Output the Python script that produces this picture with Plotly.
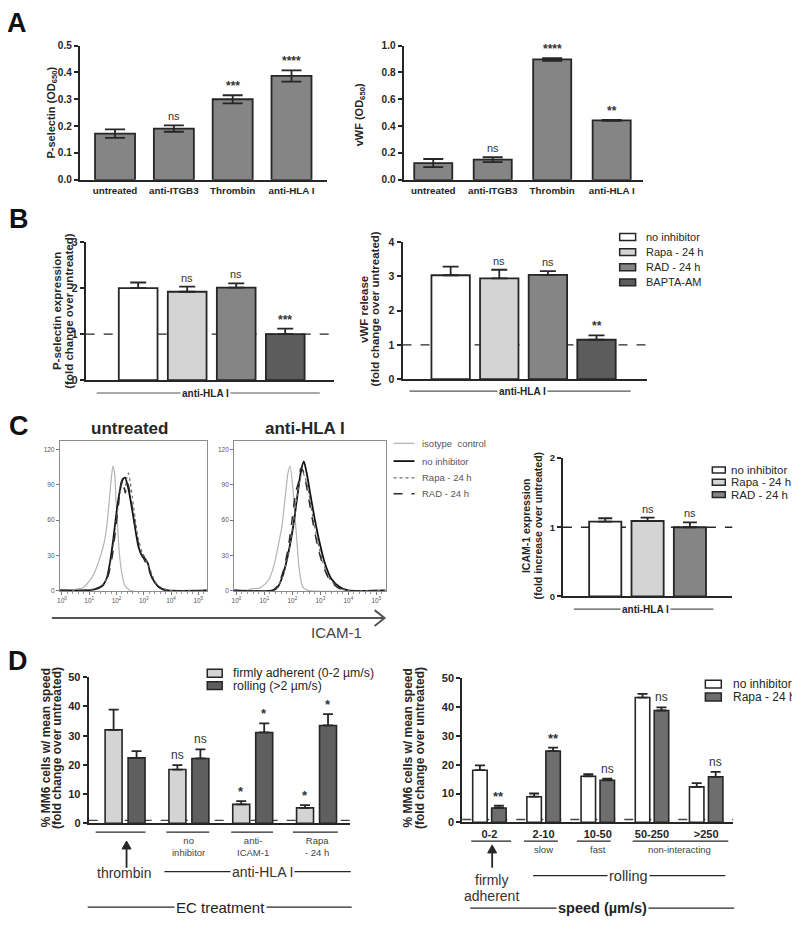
import plotly.graph_objects as go

# The page adds an 8 px body margin, so the figure is drawn 8 px in from the top-left.
OFF = 8
W, H = 800 - OFF, 930 - OFF
FONT = "Arial, 'Liberation Sans', sans-serif"
INK = "#262626"

# ---------------- data ----------------
a_cats = ["untreated", "anti-ITGB3", "Thrombin", "anti-HLA I"]
a_psel = [0.172, 0.191, 0.300, 0.387]
a_psel_err = [0.016, 0.012, 0.015, 0.021]
a_psel_sig = ["", "ns", "***", "****"]
a_vwf = [0.125, 0.150, 0.897, 0.443]
a_vwf_err = [0.030, 0.018, 0.010, 0.004]
a_vwf_sig = ["", "ns", "****", "**"]

b_groups = ["no inhibitor", "Rapa - 24 h", "RAD - 24 h", "BAPTA-AM"]
b_psel = [2.00, 1.92, 2.01, 1.00]
b_psel_err = [0.12, 0.11, 0.09, 0.12]
b_psel_sig = ["", "ns", "ns", "***"]
b_vwf = [3.03, 2.94, 3.04, 1.15]
b_vwf_err = [0.25, 0.25, 0.11, 0.13]
b_vwf_sig = ["", "ns", "ns", "**"]

c_groups = ["no inhibitor", "Rapa - 24 h", "RAD - 24 h"]
c_icam = [1.08, 1.09, 1.00]
c_icam_err = [0.05, 0.05, 0.07]
c_icam_sig = ["", "ns", "ns"]

# flow cytometry histograms (x = log10 fluorescence, y = counts)
h_ticks = ["10<sup>0</sup>", "10<sup>1</sup>", "10<sup>2</sup>", "10<sup>3</sup>", "10<sup>4</sup>", "10<sup>5</sup>"]
iso_u_x = [-0.08, 0.5, 0.75, 1.0, 1.17, 1.35, 1.53, 1.65, 1.75, 1.82, 1.87, 1.93, 1.98, 2.04, 2.1, 2.2, 2.32, 2.5, 5.33]
iso_u_y = [0, 1, 2, 8, 14, 25, 39, 56, 81, 98, 106, 100, 78, 55, 33, 14, 4, 0, 0]
noi_u_x = [-0.08, 0.8, 1.2, 1.48, 1.65, 1.77, 1.9, 2.02, 2.14, 2.24, 2.32, 2.4, 2.47, 2.55, 2.63, 2.72, 2.81, 2.95, 3.05, 3.15, 3.25, 3.4, 3.6, 3.9, 5.33]
noi_u_y = [0, 0, 1, 4, 11, 25, 47, 70, 87, 95, 96, 90, 83, 72, 61, 48, 37, 29, 27, 23, 14, 7, 2, 0, 0]
rapa_u_x = [-0.08, 0.8, 1.3, 1.55, 1.7, 1.85, 1.98, 2.1, 2.2, 2.3, 2.38, 2.44, 2.5, 2.58, 2.68, 2.8, 2.95, 3.1, 3.25, 3.4, 3.6, 3.9, 5.33]
rapa_u_y = [0, 0, 2, 6, 14, 33, 58, 78, 90, 86, 96, 100, 93, 80, 62, 44, 32, 26, 17, 8, 3, 0, 0]
rad_u_x = [-0.08, 0.8, 1.3, 1.55, 1.7, 1.85, 1.98, 2.08, 2.17, 2.24, 2.32, 2.4, 2.48, 2.58, 2.7, 2.85, 3.0, 3.15, 3.3, 3.5, 3.8, 5.33]
rad_u_y = [0, 0, 2, 5, 13, 30, 55, 75, 92, 95, 83, 92, 85, 70, 52, 35, 27, 20, 11, 4, 0, 0]

iso_h_x = [-0.08, 0.34, 0.58, 0.82, 1.0, 1.18, 1.36, 1.51, 1.63, 1.75, 1.85, 1.92, 2.01, 2.13, 2.25, 2.37, 2.55, 5.33]
iso_h_y = [0, 0, 1.5, 2, 5, 10, 23, 40, 55, 81, 101, 106, 89, 52, 17, 3, 0, 0]
noi_h_x = [-0.08, 1.3, 1.48, 1.66, 1.84, 2.02, 2.17, 2.31, 2.41, 2.52, 2.64, 2.79, 2.97, 3.15, 3.39, 3.69, 3.99, 5.33]
noi_h_y = [0, 0, 3, 13, 30, 53, 79, 102, 110, 99, 82, 62, 41, 24, 10, 3, 0, 0]
rapa_h_x = [-0.08, 1.3, 1.5, 1.7, 1.88, 2.05, 2.2, 2.3, 2.38, 2.46, 2.58, 2.72, 2.9, 3.08, 3.3, 3.6, 3.95, 5.33]
rapa_h_y = [0, 0, 4, 15, 35, 60, 85, 97, 100, 96, 84, 64, 42, 25, 11, 3, 0, 0]
rad_h_x = [-0.08, 1.3, 1.5, 1.68, 1.85, 2.0, 2.12, 2.22, 2.3, 2.38, 2.48, 2.6, 2.75, 2.92, 3.1, 3.35, 3.65, 3.95, 5.33]
rad_h_y = [0, 0, 5, 17, 36, 62, 84, 92, 104, 102, 92, 76, 56, 36, 21, 8, 2, 0, 0]

d_groups = ["thrombin", "no<br>inhibitor", "anti-<br>ICAM-1", "Rapa<br>- 24 h"]
d_firm = [32.0, 18.4, 6.5, 5.3]
d_firm_err = [6.9, 1.5, 1.1, 0.9]
d_firm_sig = ["", "ns", "*", "*"]
d_roll = [22.4, 22.2, 31.1, 33.5]
d_roll_err = [2.3, 3.1, 3.1, 3.9]
d_roll_sig = ["", "ns", "*", "*"]

e_bins = ["0-2", "2-10", "10-50", "50-250", ">250"]
e_noinh = [18.1, 8.9, 16.0, 43.3, 12.3]
e_noinh_err = [1.7, 1.1, 0.7, 1.3, 1.3]
e_rapa = [5.0, 24.7, 14.6, 38.8, 15.8]
e_rapa_err = [0.75, 1.2, 0.6, 1.1, 1.7]
e_rapa_sig = ["**", "**", "ns", "ns", "ns"]

# ---------------- helpers ----------------
def px(x):
    return (x - OFF) / W


def py(y):
    return 1 - (y - OFF) / H


fig = go.Figure()
annotations = []
shapes = []


def fnt(size, bold=False, color=INK):
    return dict(family=FONT, size=size, color=color, weight="bold" if bold else "normal")


def ann(text, x, y, size=11, bold=False, color=INK, xanchor="center", yanchor="middle",
        angle=0, xref="paper", yref="paper", bg=None, yshift=0):
    d = dict(text=text, x=px(x) if xref == "paper" else x, y=py(y) if yref == "paper" else y,
             xref=xref, yref=yref, showarrow=False, xanchor=xanchor, yanchor=yanchor,
             textangle=angle, font=fnt(size, bold, color), yshift=yshift)
    if bg:
        d["bgcolor"] = bg
        d["borderpad"] = 1
    annotations.append(d)


def line(x0, y0, x1, y1, color=INK, width=1.5, dash="solid"):
    shapes.append(dict(type="line", xref="paper", yref="paper", x0=px(x0), y0=py(y0),
                       x1=px(x1), y1=py(y1), line=dict(color=color, width=width, dash=dash)))


def up_arrow(x, y_tip, y_tail):
    line(x, y_tail, x, y_tip + 5, INK, 1.8)
    shapes.append(dict(type="path", xref="paper", yref="paper",
                       path=f"M {px(x)},{py(y_tip)} L {px(x - 4.5)},{py(y_tip + 8)} "
                            f"L {px(x + 4.5)},{py(y_tip + 8)} Z",
                       fillcolor=INK, line=dict(color=INK, width=1)))


def box(x0, x1, yc, h, fill):
    shapes.append(dict(type="rect", xref="paper", yref="paper", x0=px(x0), x1=px(x1),
                       y0=py(yc + h / 2), y1=py(yc - h / 2), fillcolor=fill,
                       line=dict(color=INK, width=1.5)))


def bars(xa, ya, vals, errs, colors, width, offset, cap, sym=False, lw=1.8):
    n = len(vals)
    fig.add_trace(go.Bar(
        x=list(range(n)), y=vals, xaxis=xa, yaxis=ya, width=width, offset=offset,
        marker=dict(color=colors, line=dict(color=INK, width=lw)),
        error_y=dict(type="data", array=errs, arrayminus=errs if sym else [0] * n,
                     symmetric=False, color=INK, thickness=1.8, width=cap, visible=True),
        hoverinfo="skip"))


def sig(xa, ya, vals, errs, labels, shift=0.0, size_ns=11, size_star=12):
    for i, s in enumerate(labels):
        if not s:
            continue
        star = s.startswith("*")
        annotations.append(dict(
            text=s, x=i + shift, y=vals[i] + errs[i], xref=xa, yref=ya, showarrow=False,
            xanchor="center", yanchor="bottom", yshift=0 if star else 1,
            font=fnt(size_star if star else size_ns, star, "#333")))


def ytitle(lines, xc, yc, size, gap):
    n = len(lines)
    for k, t in enumerate(lines):
        x = xc + (k - (n - 1) / 2) * gap
        ann(t, x, yc, size=size, bold=True, angle=-90)


def yax(top, bot, rng, dtick, anchor, size, fmt=""):
    return dict(domain=[py(bot), py(top)], range=rng, dtick=dtick, tick0=0, anchor=anchor,
                showline=True, linecolor=INK, linewidth=2, ticks="outside", ticklen=4,
                tickwidth=1.5, tickcolor=INK, showgrid=False, zeroline=False, tickformat=fmt,
                tickfont=fnt(size, True), fixedrange=True)


def xax(left, right, rng, anchor, labels=None, size=10.5, standoff=None):
    d = dict(domain=[px(left), px(right)], range=rng, anchor=anchor, showline=True,
             linecolor=INK, linewidth=2, ticks="", showgrid=False, zeroline=False,
             fixedrange=True)
    if labels:
        d.update(tickmode="array", tickvals=list(range(len(labels))), ticktext=labels,
                 tickfont=fnt(size, True), showticklabels=True)
        if standoff is not None:
            d["ticklabelstandoff"] = standoff
    else:
        d["showticklabels"] = False
    return d


def hxax(left, right, anchor):
    return dict(domain=[px(left), px(right)], range=[-0.08, 5.33], anchor=anchor,
                showline=True, mirror=True, linecolor="#8c8c8c", linewidth=1,
                tickmode="array", tickvals=list(range(6)), ticktext=h_ticks,
                ticks="outside", ticklen=3, tickcolor="#777", tickwidth=1,
                minor=dict(ticks="outside", ticklen=2, dtick=0.2, tickcolor="#999"),
                showgrid=False, zeroline=False, tickfont=fnt(6.5, False, "#555"),
                fixedrange=True)


def hyax(top, bot, anchor):
    return dict(domain=[py(bot), py(top)], range=[-0.8, 127], anchor=anchor,
                showline=True, mirror=True, linecolor="#8c8c8c", linewidth=1,
                tickmode="array", tickvals=[0, 30, 60, 90, 120],
                ticks="outside", ticklen=3, tickcolor="#777", tickwidth=1,
                showgrid=False, zeroline=False, tickfont=fnt(6.5, False, "#555"),
                fixedrange=True)


# ---------------- panel A ----------------
GRAY_A = "#858585"
bars("x", "y", a_psel, a_psel_err, GRAY_A, 0.68, -0.34, 10, sym=True)
sig("x", "y", a_psel, a_psel_err, a_psel_sig)
bars("x2", "y2", a_vwf, a_vwf_err, GRAY_A, 0.64, -0.32, 10, sym=True)
sig("x2", "y2", a_vwf, a_vwf_err, a_vwf_sig)
ytitle(["P-selectin (OD<sub>650</sub>)"], 49, 108, 11, 0)
ytitle(["vWF (OD<sub>650</sub>)"], 358, 110, 11, 0)

# ---------------- panel B ----------------
B_COLS = ["#ffffff", "#d4d4d4", "#858585", "#5c5c5c"]
bars("x3", "y3", b_psel, b_psel_err, B_COLS, 0.79, -0.395, 8)
sig("x3", "y3", b_psel, b_psel_err, b_psel_sig)
bars("x4", "y4", b_vwf, b_vwf_err, B_COLS, 0.79, -0.395, 8)
sig("x4", "y4", b_vwf, b_vwf_err, b_vwf_sig)
for xa, ya in (("x3", "y3"), ("x4", "y4"), ("x7", "y7")):
    shapes.append(dict(type="line", xref=f"{xa} domain", yref=ya, x0=0, x1=1, y0=1, y1=1,
                       layer="below", line=dict(color=INK, width=1.4, dash="dash")))
ytitle(["P-selectin expression", "(fold change over untreated)"], 60, 309, 11.5, 11.7)
ytitle(["vWF release", "(fold change over untreated)"], 368, 307, 11.5, 11.7)
line(94, 392, 318, 392, "#555", 1.2)
ann("anti-HLA I", 203, 392, size=10, bold=True, bg="white")
line(408, 390, 630, 390, "#555", 1.2)
ann("anti-HLA I", 521, 390, size=10, bold=True, bg="white")
for k, (lab, col) in enumerate(zip(b_groups, B_COLS)):
    yc = 234 + k * 15.3
    box(619, 635, yc, 7, col)
    ann(lab, 643, yc, size=11, xanchor="left")

# ---------------- panel C ----------------
hist_styles = [
    ("isotype  control", dict(color="#b3b3b3", width=1.2, dash="solid")),
    ("no inhibitor", dict(color="#111111", width=1.8, dash="solid")),
    ("Rapa - 24 h", dict(color="#6e6e6e", width=1.2, dash="dot")),
    ("RAD - 24 h", dict(color="#2a2a2a", width=1.5, dash="dash")),
]
for xa, ya, curves in (
    ("x5", "y5", [(iso_u_x, iso_u_y), (noi_u_x, noi_u_y), (rapa_u_x, rapa_u_y), (rad_u_x, rad_u_y)]),
    ("x6", "y6", [(iso_h_x, iso_h_y), (noi_h_x, noi_h_y), (rapa_h_x, rapa_h_y), (rad_h_x, rad_h_y)]),
):
    for (cx, cy), (name, st) in zip(curves, hist_styles):
        fig.add_trace(go.Scatter(x=cx, y=cy, xaxis=xa, yaxis=ya, mode="lines", name=name,
                                 line=dict(shape="spline", smoothing=0.6, **st),
                                 hoverinfo="skip"))
ann("untreated", 127, 428, size=17, bold=True)
ann("anti-HLA I", 303, 428, size=17, bold=True)
for k, (name, st) in enumerate(hist_styles):
    yc = [443, 461, 478, 494][k]
    line(392, yc, 413, yc, st["color"], st["width"], st["dash"])
    ann(name, 419, yc, size=9.5, color="#555", xanchor="left")
# ICAM-1 arrow
line(49, 620, 382, 620, "#555", 2)
shapes.append(dict(type="path", xref="paper", yref="paper",
                   path=f"M {px(373)},{py(612)} L {px(383)},{py(620)} L {px(373)},{py(628)}",
                   line=dict(color="#555", width=2)))
ann("ICAM-1", 335, 635, size=15, color="#444")

C_COLS = ["#ffffff", "#d4d4d4", "#858585"]
bars("x7", "y7", c_icam, c_icam_err, C_COLS, 0.76, -0.38, 7)
sig("x7", "y7", c_icam, c_icam_err, c_icam_sig)
ytitle(["ICAM-1 expression", "(fold increase over untreated)"], 531, 526, 10.5, 12.5)
line(573, 611, 713, 611, "#555", 1.2)
ann("anti-HLA I", 645, 611, size=10, bold=True, bg="white")
for k, (lab, col) in enumerate(zip(c_groups, C_COLS)):
    yc = 470 + k * 12.5
    box(712, 725, yc, 6, col)
    ann(lab, 729, yc, size=11.5, xanchor="left")

# ---------------- panel D ----------------
FIRM, ROLL = "#d4d4d4", "#5f5f5f"
bars("x8", "y8", d_firm, d_firm_err, FIRM, 0.266, -0.313, 5, lw=1.6)
bars("x8", "y8", d_roll, d_roll_err, ROLL, 0.266, 0.047, 5, lw=1.6)
sig("x8", "y8", d_firm, d_firm_err, d_firm_sig, shift=-0.18, size_ns=12, size_star=13)
sig("x8", "y8", d_roll, d_roll_err, d_roll_sig, shift=0.18, size_ns=12, size_star=13)
ytitle(["% MM6 cells w/ mean speed", "(fold change over untreated)"], 49, 752, 12, 11.7)
box(205, 220, 676, 8, FIRM)
ann("firmly adherent (0-2 µm/s)", 229, 676, size=12.3, xanchor="left")
box(205, 220, 688.5, 8, ROLL)
ann("rolling (>2 µm/s)", 229, 688.5, size=12.3, xanchor="left")
for (x0, x1) in ((93, 143), (164, 207), (229, 271), (291, 336)):
    line(x0, 837, x1, 837, INK, 1.3)
for i, g in enumerate(d_groups[1:], start=1):
    annotations.append(dict(text=g, x=i, y=py(851), xref="x8", yref="paper", showarrow=False,
                            xanchor="center", yanchor="middle", font=fnt(9.5, False, "#444")))
up_arrow(124, 846, 873)
ann(d_groups[0], 121, 878, size=14, color="#333")
line(162, 877, 349, 877, INK, 1.3)
ann("anti-HLA I", 260, 877, size=14, color="#333", bg="white")
line(85, 913, 350, 913, INK, 1.3)
ann("EC treatment", 218, 913, size=15, color="#222", bg="white")

E_COLS = ["#ffffff", "#6e6e6e"]
bars("x9", "y9", e_noinh, e_noinh_err, E_COLS[0], 0.267, -0.308, 5, lw=1.6)
bars("x9", "y9", e_rapa, e_rapa_err, E_COLS[1], 0.267, 0.042, 5, lw=1.6)
sig("x9", "y9", e_rapa, e_rapa_err, e_rapa_sig, shift=0.175, size_ns=12, size_star=13)
for xa, ya in (("x8", "y8"), ("x9", "y9")):
    shapes.append(dict(type="line", xref=f"{xa} domain", yref=ya, x0=0, x1=1, y0=1, y1=1,
                       layer="below", line=dict(color="#444", width=1.4, dash="dash")))
ytitle(["% MM6 cells w/ mean speed", "(fold change over untreated)"], 413, 752, 12, 12.5)
box(705, 721, 687, 8, E_COLS[0])
ann("no inhibitor", 731, 687, size=12, xanchor="left")
box(705, 721, 700, 8, E_COLS[1])
ann("Rapa - 24 h", 731, 700, size=12, xanchor="left")
for (x0, x1) in ((470, 510), (523, 557), (576, 610), (632, 728)):
    line(x0, 846, x1, 846, INK, 1.3)
for xv, t in ((1, "slow"), (2, "fast"), (3.5, "non-interacting")):
    annotations.append(dict(text=t, x=xv, y=py(855), xref="x9", yref="paper", showarrow=False,
                            xanchor="center", yanchor="middle", font=fnt(9.5, False, "#444")))
up_arrow(491, 850, 873)
ann("firmly", 490, 885, size=14, color="#333")
ann("adherent", 490, 902, size=14, color="#333")
line(532, 881, 725, 881, INK, 1.3)
ann("rolling", 628, 881, size=14.5, color="#333", bg="white")
line(469, 914, 734, 914, INK, 1.3)
ann("speed (µm/s)", 602, 914, size=14.5, bold=True, color="#222", bg="white")

# panel letters
for t, x, y in (("A", 14, 17), ("B", 16, 216), ("C", 16, 425), ("D", 15, 664)):
    ann(t, x, y, size=27, bold=True, color="#111")

# ---------------- layout ----------------
layout = dict(
    width=W, height=H, margin=dict(l=0, r=0, t=0, b=0), paper_bgcolor="white",
    plot_bgcolor="rgba(0,0,0,0)", showlegend=False, barmode="overlay",
    font=dict(family=FONT, color=INK),
    xaxis=xax(77, 325, [-0.6, 3.6], "y", a_cats, 9.8),
    yaxis=yax(40, 176, [0, 0.5], 0.1, "x", 10, ".1f"),
    xaxis2=xax(402, 642, [-0.5, 3.52], "y2", a_cats, 9.8),
    yaxis2=yax(40, 176, [0, 1.0], 0.2, "x2", 10, ".1f"),
    xaxis3=xax(83, 332, [-1.07, 3.99], "y3"),
    yaxis3=yax(239, 379, [0, 3], 1, "x3", 10.5),
    xaxis4=xax(401, 646, [-0.99, 4.03], "y4"),
    yaxis4=yax(239, 378, [0, 4], 1, "x4", 10.5),
    xaxis5=hxax(57, 205, "y5"),
    yaxis5=hyax(441, 593, "x5"),
    xaxis6=hxax(232, 384, "y6"),
    yaxis6=hyax(441, 593, "x6"),
    xaxis7=xax(562, 732, [-1, 3], "y7"),
    yaxis7=yax(458, 598, [0, 2], 1, "x7", 9.5),
    xaxis8=xax(86, 348, [-0.57, 3.52], "y8"),
    yaxis8=yax(680, 828, [0, 50], 10, "x8", 11),
    xaxis9=xax(461, 733, [-0.5, 4.5], "y9", e_bins, 11),
    yaxis9=yax(681, 827, [0, 50], 10, "x9", 11),
    annotations=annotations,
    shapes=shapes,
)
fig.update_layout(**layout)
fig.write_html("out.html")
